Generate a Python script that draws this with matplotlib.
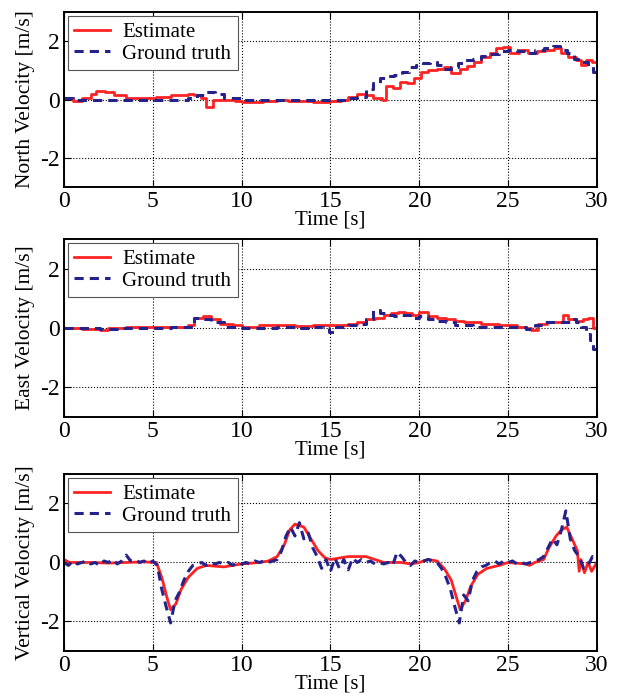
import numpy as np
import matplotlib as mpl
mpl.use("Agg")
from matplotlib import pyplot as plt

mpl.rcParams.update({
    "font.family": "serif",
    "font.serif": ["Liberation Serif", "DejaVu Serif"],
    "axes.unicode_minus": False,
})

RED = "#ff2222"
BLUE = "#25228a"

# North velocity
t_n_est = [0, 0.5, 1.0, 1.5, 1.8, 2.3, 2.8, 3.5, 4.5, 5.2, 6.0, 6.6, 7.0, 7.3, 7.7, 8.0, 8.4, 9.0, 9.6,
           10.0, 10.6, 11.2, 12.0, 12.6, 13.2, 14.0, 15.0, 15.6, 16.0, 16.5, 17.0, 17.4, 17.9, 18.1, 18.5,
           18.9, 19.3, 19.7, 20.1, 20.5, 21.0, 21.4, 21.8, 22.3, 22.7, 23.1, 23.5, 24.0, 24.3, 24.7,
           25.1, 25.6, 26.1, 26.6, 27.1, 27.6, 28.0, 28.4, 28.8, 29.1, 29.4, 29.7, 30.0]
v_n_est = [0.05, -0.05, 0.05, 0.2, 0.3, 0.25, 0.15, 0.05, 0.05, 0.1, 0.15, 0.15, 0.2, 0.15, 0.05, -0.25, 0.0, 0.0, -0.05,
           -0.1, -0.1, -0.05, 0.0, -0.05, -0.05, -0.1, -0.05, 0.0, 0.1, 0.2, 0.15, 0.05, 0.0, 0.45, 0.4,
           0.6, 0.55, 0.75, 0.95, 1.0, 1.05, 1.1, 0.9, 1.05, 1.15, 1.3, 1.45, 1.6, 1.75, 1.8,
           1.6, 1.7, 1.6, 1.65, 1.7, 1.75, 1.6, 1.45, 1.35, 1.2, 1.35, 1.3, 1.3]
t_n_gt = [0, 0.5, 1.5, 3.0, 4.5, 6.0, 7.0, 7.5, 8.0, 8.5, 9.0, 10.0, 11.0, 12.0, 13.0, 14.0, 15.0, 16.0,
          16.5, 17.0, 17.4, 17.8, 18.2, 18.6, 19.0, 19.4, 19.8, 20.2, 20.6, 21.0, 21.4, 21.8, 22.2,
          22.6, 23.0, 23.5, 24.0, 24.5, 25.0, 25.5, 26.0, 26.5, 27.0, 27.5, 27.9, 28.3, 28.7, 29.1,
          29.5, 29.8, 30.0]
v_n_gt = [0.05, 0.0, 0.0, -0.02, 0.0, 0.0, 0.05, 0.15, 0.25, 0.2, 0.05, 0.0, -0.02, 0.0, 0.0, -0.02, 0.0, 0.05,
          0.1, 0.35, 0.55, 0.75, 0.8, 0.85, 0.95, 1.1, 1.2, 1.25, 1.3, 1.2, 1.05, 1.1, 1.25,
          1.35, 1.4, 1.5, 1.55, 1.65, 1.7, 1.65, 1.6, 1.7, 1.75, 1.85, 1.7, 1.6, 1.4, 1.3,
          1.15, 0.95, 0.95]

# East velocity
t_e_est = [0, 1.0, 2.0, 2.5, 3.5, 4.5, 5.5, 6.5, 7.0, 7.3, 7.8, 8.3, 8.8, 9.5, 10.0, 11.0, 12.0, 13.0, 14.0,
           15.0, 16.0, 16.5, 17.0, 17.5, 18.0, 18.4, 18.8, 19.2, 19.6, 20.0, 20.5, 21.0, 21.5, 22.0,
           22.5, 23.0, 23.5, 24.0, 24.5, 25.0, 25.5, 26.0, 26.3, 26.7, 27.2, 27.7, 28.1, 28.4, 28.8,
           29.2, 29.5, 29.8, 30.0]
v_e_est = [0.0, -0.03, -0.08, 0.0, 0.02, 0.05, 0.05, 0.05, 0.1, 0.35, 0.4, 0.3, 0.15, 0.1, 0.05, 0.1, 0.1, 0.08, 0.1,
           0.1, 0.12, 0.2, 0.3, 0.35, 0.45, 0.5, 0.55, 0.5, 0.45, 0.55, 0.4, 0.35, 0.3, 0.25,
           0.2, 0.2, 0.15, 0.15, 0.1, 0.1, 0.05, 0.0, -0.08, 0.15, 0.2, 0.2, 0.45, 0.3, 0.25,
           0.3, 0.35, 0.0, 0.0]
t_e_gt = [0, 1.0, 2.0, 3.0, 4.0, 5.0, 6.0, 7.0, 7.3, 7.8, 8.3, 9.0, 10.0, 11.0, 12.0, 13.0, 14.0, 14.6,
          14.9, 15.3, 16.0, 16.5, 17.0, 17.4, 17.8, 18.2, 18.6, 19.0, 19.5, 20.0, 20.5, 21.0, 21.5,
          22.0, 23.0, 24.0, 25.0, 26.0, 26.5, 27.0, 27.5, 28.0, 28.5, 28.8, 29.1, 29.4, 29.6, 29.8, 30.0]
v_e_gt = [0.0, 0.0, -0.02, 0.0, 0.0, 0.0, 0.02, 0.05, 0.35, 0.3, 0.2, 0.05, 0.0, 0.0, 0.02, 0.0, 0.02, 0.0,
          -0.12, 0.02, 0.1, 0.15, 0.3, 0.6, 0.5, 0.45, 0.4, 0.45, 0.35, 0.4, 0.3, 0.25, 0.2,
          0.1, 0.05, 0.05, 0.02, -0.02, 0.1, 0.2, 0.2, 0.2, 0.3, 0.2, 0.05, -0.2, -0.4, -0.7, -0.7]

# Vertical velocity
t_v_est = [0, 0.3, 0.6, 1.5, 2.5, 3.5, 4.5, 5.2, 5.5, 5.8, 6.0, 6.3, 6.6, 7.0, 7.5, 8.0, 9.0, 9.5, 10.0,
           11.0, 11.5, 12.0, 12.4, 12.7, 13.0, 13.5, 13.9, 14.3, 14.7, 15.0, 15.5, 16.0, 17.0, 17.5,
           18.0, 19.0, 19.5, 20.0, 20.5, 21.0, 21.4, 21.8, 22.1, 22.3, 22.6, 22.9, 23.3, 23.8, 24.5,
           25.0, 26.0, 26.2, 26.5, 27.0, 27.3, 27.7, 28.0, 28.3, 28.6, 28.9, 29.0, 29.1, 29.3, 29.5,
           29.7, 30.0]
v_v_est = [0.1, 0.0, 0.0, 0.0, -0.02, 0.0, 0.02, 0.0, -0.5, -1.2, -1.6, -1.4, -0.9, -0.5, -0.2, -0.1, -0.15, -0.1, -0.05,
           0.0, 0.05, 0.2, 0.6, 1.1, 1.3, 1.2, 0.8, 0.4, 0.15, 0.1, 0.15, 0.2, 0.2, 0.1,
           0.0, 0.0, -0.05, 0.0, 0.1, 0.05, -0.2, -0.6, -1.2, -1.6, -1.3, -0.8, -0.4, -0.2, -0.1,
           0.0, -0.05, -0.1, 0.0, 0.1, 0.5, 0.9, 1.1, 1.2, 0.8, 0.4, -0.3, 0.1, -0.35, 0.0,
           -0.3, 0.0]
t_v_gt = np.arange(0, 30.01, 0.25)
v_v_gt = [0.0, -0.1, 0.05, -0.05, 0.0, 0.05, -0.05, 0.0, -0.1, 0.05, 0.0, 0.1, -0.05, 0.05, 0.25, 0.05,
          0.1, 0.0, 0.05, -0.05, 0.05, -0.1, -0.9, -1.5, -2.05, -1.3, -1.0, -0.6, -0.3, -0.1, -0.05, 0.0,
          -0.1, 0.0, -0.05, 0.0, -0.05, 0.0, -0.1, 0.0, -0.05, 0.0, -0.05, 0.05, 0.0, 0.05, 0.0, 0.05,
          0.1, 0.4, 0.9, 1.2, 0.9, 1.35, 0.8, 1.0, 0.5, 0.2, -0.2, 0.1, -0.3, 0.15, -0.2, 0.1,
          -0.25, 0.15, 0.0, 0.1, 0.0, 0.05, -0.05, 0.0, -0.05, 0.0, -0.1, 0.35, 0.2, 0.0, -0.1, 0.05,
          0.0, 0.05, 0.1, 0.05, 0.0, -0.2, -0.5, -0.9, -1.5, -2.05, -1.1, -1.3, -0.6, -0.3, -0.15, -0.1,
          0.0, 0.05, -0.05, 0.05, 0.0, 0.05, -0.05, 0.0, -0.05, 0.0, 0.05, 0.1, 0.2, 0.5, 0.8, 0.6,
          1.1, 1.75, 0.8, 0.4, 0.2, -0.2, -0.1, 0.2, 0.1]

panels = [
    ("North Velocity [m/s]", t_n_est, v_n_est, t_n_gt, v_n_gt, "steps-post"),
    ("East Velocity [m/s]", t_e_est, v_e_est, t_e_gt, v_e_gt, "steps-post"),
    ("Vertical Velocity [m/s]", t_v_est, v_v_est, t_v_gt, v_v_gt, "default"),
]
# axes boxes in figure fractions: [left, bottom, width, height]
boxes = [
    [0.1026, 0.7313, 0.854, 0.2514],
    [0.1026, 0.4009, 0.854, 0.2557],
    [0.1026, 0.0647, 0.854, 0.2543],
]

fig = plt.figure(figsize=(6.24, 6.96), dpi=100)
for (ylab, te, ve, tg, vg, ds), box in zip(panels, boxes):
    ax = fig.add_axes(box)
    ax.plot(te, ve, color=RED, lw=2.0, drawstyle=ds, label="Estimate")
    ax.plot(tg, vg, color=BLUE, lw=2.2, ls=(0, (3, 2)), drawstyle=ds, label="Ground truth")
    ax.set_xlim(0, 30)
    ax.set_ylim(-3, 3)
    ax.set_xticks(np.arange(0, 31, 5))
    ax.set_yticks([-2, 0, 2])
    ax.grid(True, color="k", ls=":", lw=0.8)
    ax.tick_params(direction="in", top=True, right=True, labelsize=17, length=5, pad=3)
    for sp in ax.spines.values():
        sp.set_linewidth(1.4)
    ax.set_xlabel("Time [s]", fontsize=15, labelpad=-1)
    ax.set_ylabel(ylab, fontsize=15.5, labelpad=4)
    leg = ax.legend(loc="upper left", fontsize=15, fancybox=False, framealpha=1,
                    edgecolor="#555555", borderaxespad=0.2, handlelength=1.7,
                    labelspacing=0.1, borderpad=0.3, handletextpad=0.6)
    leg.get_frame().set_linewidth(0.8)

fig.savefig("out.png", dpi=100)
